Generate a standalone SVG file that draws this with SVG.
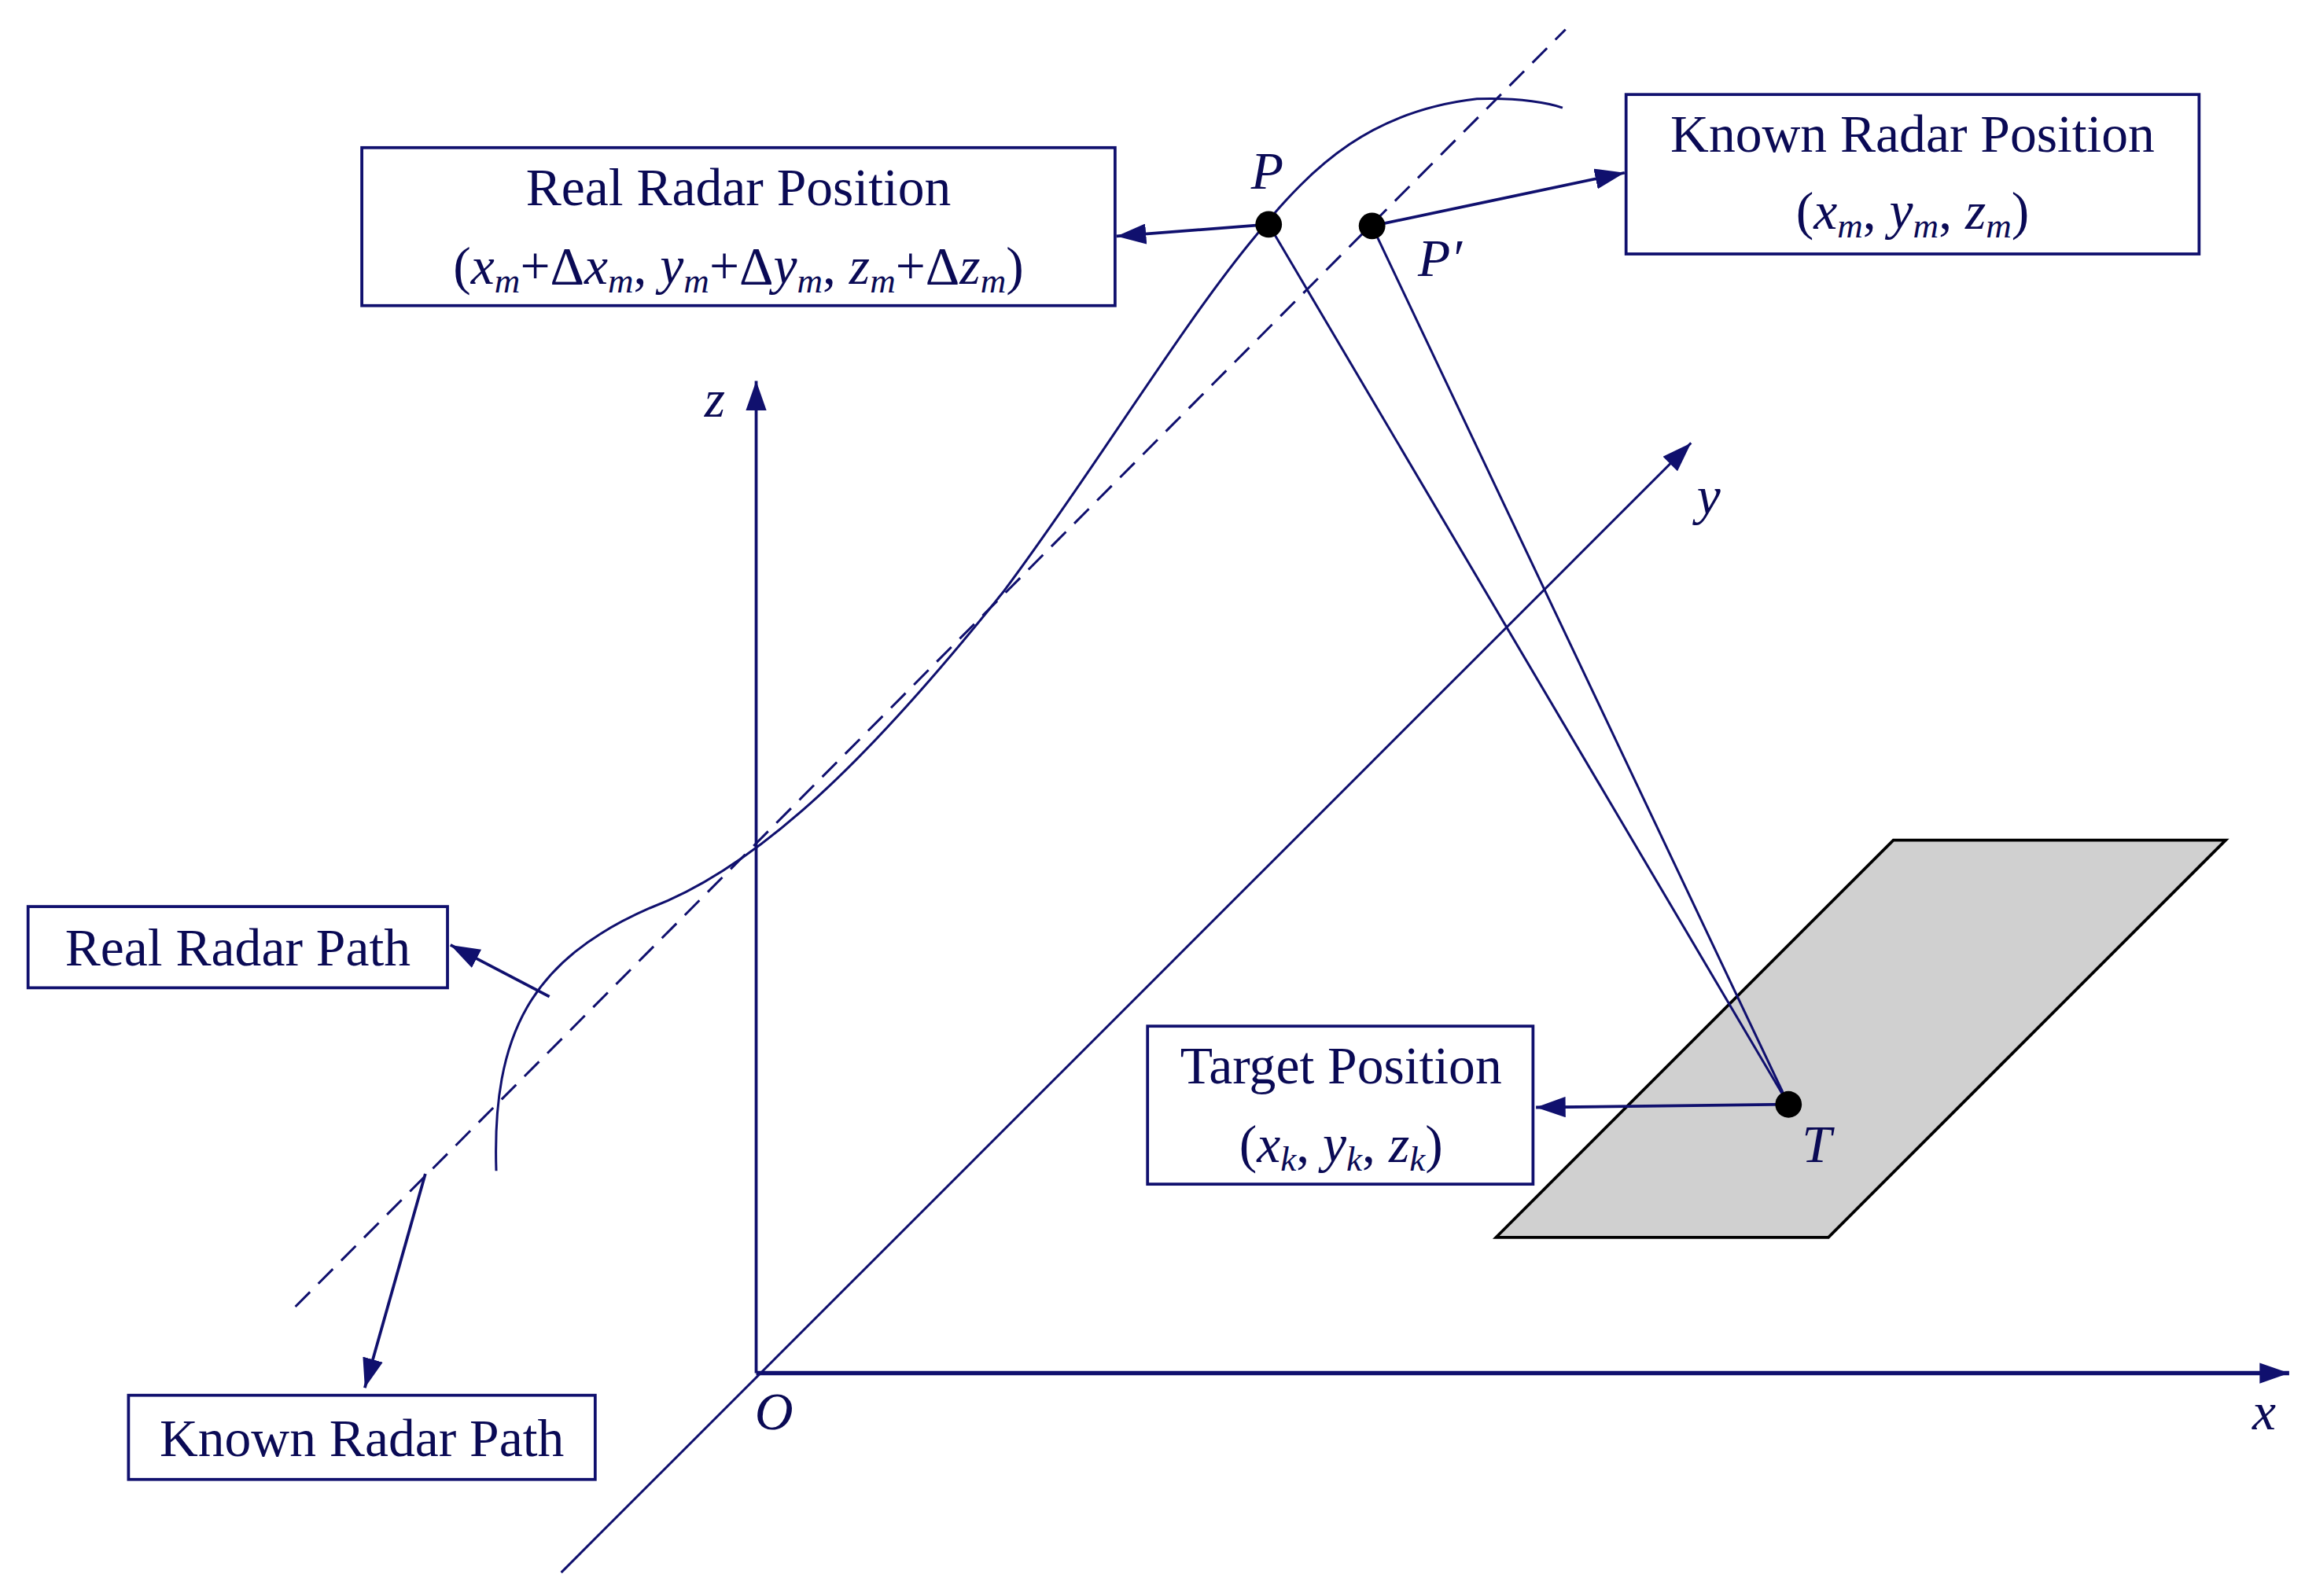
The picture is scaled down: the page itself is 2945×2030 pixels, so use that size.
<svg xmlns="http://www.w3.org/2000/svg" width="2945" height="2030" viewBox="0 0 2945 2030">
<defs>
<marker id="ah" viewBox="0 0 20 14" refX="20" refY="7" markerWidth="20" markerHeight="14" markerUnits="userSpaceOnUse" orient="auto"><path d="M0,0 L20,7 L0,14 z" fill="#10106e"/></marker>
<style>
.ln{stroke:#10106e;stroke-width:1.6;fill:none}
.box{fill:#fff;stroke:#10106e;stroke-width:2}
.t{font-family:"Liberation Serif",serif;font-size:36px;fill:#0a0a55;text-anchor:middle}
.i{font-style:italic}
.s{font-size:24px;font-style:italic}
</style>
</defs>
<rect width="2945" height="2030" fill="#fff"/>
<g transform="scale(1.878)">
<polygon points="1282,569 1507,569 1238,838 1013,838" fill="#d0d0d0" stroke="#000" stroke-width="2"/>
<g id="connectors">
<line class="ln" x1="200" y1="885" x2="1060" y2="20" stroke-dasharray="14,8"/>
<path class="ln" d="M336,793 C333,700 360,650 440,615 C520,585 600,500 680,400 C740,320 800,220 850,160 C890,110 930,75 1000,67 C1030,66 1050,70 1058,73"/>
<line class="ln" x1="512" y1="930" x2="512" y2="258" marker-end="url(#ah)" style="stroke-width:2"/>
<line class="ln" x1="512" y1="930" x2="1550" y2="930" marker-end="url(#ah)" style="stroke-width:3"/>
<line class="ln" x1="380" y1="1065" x2="1145" y2="300" marker-end="url(#ah)"/>
<line class="ln" x1="859" y1="152" x2="1211" y2="748"/>
<line class="ln" x1="929" y1="153" x2="1211" y2="748"/>
<line class="ln" x1="859" y1="152" x2="756" y2="160" marker-end="url(#ah)" style="stroke-width:2"/>
<line class="ln" x1="929" y1="153" x2="1100" y2="117" marker-end="url(#ah)" style="stroke-width:2"/>
<line class="ln" x1="1211" y1="748" x2="1040" y2="750" marker-end="url(#ah)" style="stroke-width:2"/>
<line class="ln" x1="372" y1="675" x2="305" y2="640" marker-end="url(#ah)" style="stroke-width:2"/>
<line class="ln" x1="288" y1="795" x2="247" y2="940" marker-end="url(#ah)" style="stroke-width:2"/>
</g>
<g id="P"><circle cx="859" cy="152" r="9" fill="#000"/><text class="t i" x="858" y="128">P</text></g>
<g id="Pp"><circle cx="929" cy="153" r="9" fill="#000"/><text class="t i" x="975" y="187">P′</text></g>
<g id="T"><circle cx="1211" cy="748" r="9" fill="#000"/><text class="t i" x="1230" y="787">T</text></g>
<g id="axes-labels">
<text class="t i" x="484" y="282">z</text>
<text class="t i" x="1157" y="348">y</text>
<text class="t i" x="1533" y="968">x</text>
<text class="t i" x="524" y="968">O</text>
</g>
<g id="real-pos">
<rect class="box" x="245" y="100" width="510" height="107"/>
<text class="t" x="500" y="139">Real Radar Position</text>
<text class="t" x="500" y="192">(<tspan class="i">x</tspan><tspan class="s" dy="6">m</tspan><tspan dy="-6">+Δ</tspan><tspan class="i">x</tspan><tspan class="s" dy="6">m</tspan><tspan dy="-6">, </tspan><tspan class="i">y</tspan><tspan class="s" dy="6">m</tspan><tspan dy="-6">+Δ</tspan><tspan class="i">y</tspan><tspan class="s" dy="6">m</tspan><tspan dy="-6">, </tspan><tspan class="i">z</tspan><tspan class="s" dy="6">m</tspan><tspan dy="-6">+Δ</tspan><tspan class="i">z</tspan><tspan class="s" dy="6">m</tspan><tspan dy="-6">)</tspan></text>
</g>
<g id="known-pos">
<rect class="box" x="1101" y="64" width="388" height="108"/>
<text class="t" x="1295" y="103">Known  Radar Position</text>
<text class="t" x="1295" y="155">(<tspan class="i">x</tspan><tspan class="s" dy="6">m</tspan><tspan dy="-6">, </tspan><tspan class="i">y</tspan><tspan class="s" dy="6">m</tspan><tspan dy="-6">, </tspan><tspan class="i">z</tspan><tspan class="s" dy="6">m</tspan><tspan dy="-6">)</tspan></text>
</g>
<g id="target-pos">
<rect class="box" x="777" y="695" width="261" height="107"/>
<text class="t" x="908" y="734">Target Position</text>
<text class="t" x="908" y="787">(<tspan class="i">x</tspan><tspan class="s" dy="6">k</tspan><tspan dy="-6">, </tspan><tspan class="i">y</tspan><tspan class="s" dy="6">k</tspan><tspan dy="-6">, </tspan><tspan class="i">z</tspan><tspan class="s" dy="6">k</tspan><tspan dy="-6">)</tspan></text>
</g>
<g id="real-path">
<rect class="box" x="19" y="614" width="284" height="55"/>
<text class="t" x="161" y="654">Real Radar Path</text>
</g>
<g id="known-path">
<rect class="box" x="87" y="945" width="316" height="57"/>
<text class="t" x="245" y="986">Known Radar Path</text>
</g>
</g>
</svg>
